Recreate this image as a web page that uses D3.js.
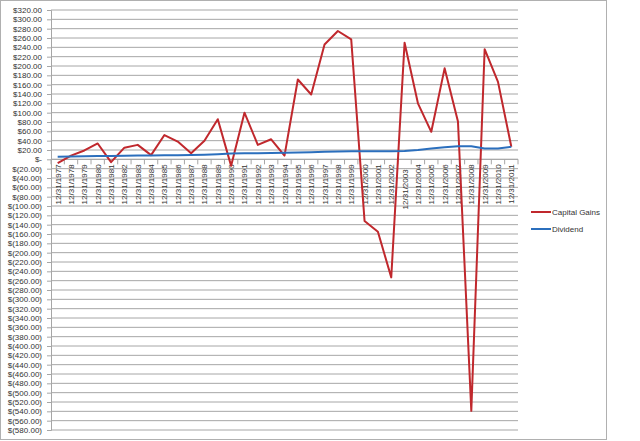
<!DOCTYPE html>
<html><head><meta charset="utf-8">
<script src="https://cdn.jsdelivr.net/npm/d3@7/dist/d3.min.js"></script>
<style>body{margin:0;background:#fff}svg{display:block}text{font-family:"Liberation Sans",Arial,sans-serif;fill:#333}</style>
</head><body>
<script>
const years = d3.range(1977, 2012).map(y => "12/31/" + y);
const capitalGains = [-8, 8, 19, 34, -6, 25, 31, 9, 52, 38, 13, 40, 86, -14, 100, 31, 43, 8, 171, 139, 246, 275, 257, -132, -155, -253, 250, 120, 59, 195, 81, -539, 236, 166, 27];
const dividend = [5.5, 6, 6.5, 7, 7.3, 7.6, 8, 8.3, 8.7, 9, 9.5, 10, 11, 12.5, 13, 13.2, 13.5, 14, 14.5, 15, 16, 17, 17.5, 17.5, 17.5, 17.5, 18, 20, 23, 26, 28, 28, 23, 23, 27];
const yTicks = d3.range(-580, 321, 20);
const seriesNames = ["Capital Gains", "Dividend"];
const seriesColors = ["#c0282d", "#2b6fbd"];

(function () {
const W = 640, H = 441;
const svg = d3.select("body").append("svg").attr("width", W).attr("height", H);
svg.append("rect").attr("x", 0.5).attr("y", 0.5).attr("width", 606).attr("height", 439)
  .attr("fill", "#fff").attr("stroke", "#b0b0b0");

const pL = 51, pR = 518, pT = 10, pB = 430;
const x = d3.scaleBand().domain(years).range([pL, pR]);
const y = d3.scaleLinear().domain([-580, 320]).range([pB, pT]);

// gridlines
svg.append("g").selectAll("line").data(yTicks).join("line")
  .attr("x1", pL).attr("x2", pR).attr("y1", d => y(d)).attr("y2", d => y(d))
  .attr("stroke", "#a6a6a6").attr("stroke-width", 1);

// y axis
const fmt = d => d === 0 ? "$-" : d < 0 ? "$(" + d3.format(".2f")(-d) + ")" : "$" + d3.format(".2f")(d);
const yAxis = svg.append("g").attr("transform", `translate(${pL},0)`)
  .call(d3.axisLeft(y).tickValues(yTicks).tickFormat(fmt).tickSize(4).tickPadding(5));
yAxis.select(".domain").attr("stroke", "#a6a6a6");
yAxis.selectAll(".tick line").attr("stroke", "#a6a6a6");
yAxis.selectAll("text").attr("font-size", 8).attr("fill", "#333").style("font-family", "'Liberation Sans',Arial,sans-serif");

// x axis at zero
const y0 = y(0);
svg.append("line").attr("x1", pL).attr("x2", pR).attr("y1", y0).attr("y2", y0).attr("stroke", "#a6a6a6");
svg.append("g").selectAll("line").data(years.concat(["end"])).join("line")
  .attr("x1", (d, i) => pL + i * x.bandwidth()).attr("x2", (d, i) => pL + i * x.bandwidth())
  .attr("y1", y0).attr("y2", y0 + 5).attr("stroke", "#a6a6a6");
svg.append("g").selectAll("text").data(years).join("text")
  .attr("transform", (d, i) => `translate(${x(d) + x.bandwidth() / 2 + 3},${y0 + 5 + (d.endsWith("2003") ? 5 : 0)}) rotate(-90)`)
  .attr("text-anchor", "end").attr("font-size", 8).text(d => d);

// lines
const seriesData = [capitalGains, dividend];
const line = d3.line().x((d, i) => x(years[i]) + x.bandwidth() / 2).y(d => y(d));
seriesData.forEach((s, k) => {
  svg.append("path").datum(s).attr("d", line).attr("fill", "none")
    .attr("stroke", seriesColors[k]).attr("stroke-width", 2).attr("stroke-linejoin", "round");
});

// legend
const lg = svg.append("g");
seriesNames.forEach((n, k) => {
  const ly = 212 + k * 17;
  lg.append("line").attr("x1", 531).attr("x2", 551).attr("y1", ly).attr("y2", ly)
    .attr("stroke", seriesColors[k]).attr("stroke-width", 2);
  lg.append("text").attr("x", 552).attr("y", ly + 3).attr("font-size", 8).text(n);
});
})();
</script>
</body></html>
